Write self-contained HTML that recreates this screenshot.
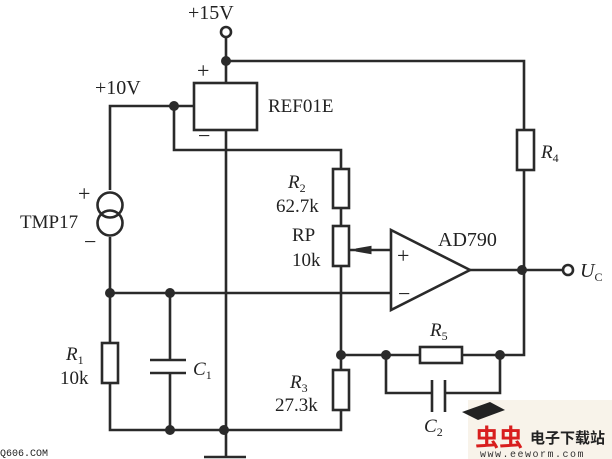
<!DOCTYPE html>
<html><head><style>
html,body{margin:0;padding:0;background:#fff;}
svg{display:block;}
text{font-family:"Liberation Serif",serif;fill:#222;}
</style></head><body>
<svg width="612" height="459" viewBox="0 0 612 459" xmlns="http://www.w3.org/2000/svg">
<g stroke="#2a2a2a" stroke-width="2.6" fill="none">
<circle cx="226" cy="32" r="5"/>
<path d="M226 37 V82 M226 61 H524 V130 M524 170 V355 H500"/>
<rect x="517" y="130" width="17" height="40"/>
<rect x="194" y="83" width="63" height="47"/>
<path d="M110 190 V106 H194 M174 106 V150 H341 V169 M341 208 V226 M341 266 V370 M341 410 V430 H110 V383 M110 343 V293 V237"/>
<path d="M226 130 V457 M204 457 H246"/>
<circle cx="110" cy="205" r="12.5"/>
<circle cx="110" cy="223" r="12.5"/>
<rect x="333" y="169" width="16" height="39"/>
<rect x="333" y="226" width="16" height="40"/>
<rect x="102" y="343" width="16" height="40"/>
<rect x="333" y="370" width="16" height="40"/>
<path d="M110 293 H391"/>
<path d="M170 293 V360 M150 360 H186 M150 373 H186 M170 373 V430"/>
<path d="M349 250 H391"/>
<path d="M391 230 L470 270 L391 310 Z"/>
<path d="M470 270 H563"/>
<circle cx="568" cy="270" r="5"/>
<path d="M341 355 H420 M462 355 H500 M386 355 V393 H432 M445 393 H500 V355"/>
<rect x="420" y="347" width="42" height="16"/>
<path d="M432 380 V412 M445 380 V412"/>
</g>
<path d="M356 250 L370 247.5 L370 252.5 Z" fill="#2a2a2a" stroke="#2a2a2a" stroke-width="3"/>
<g fill="#2a2a2a">
<circle cx="226" cy="61" r="5"/><circle cx="174" cy="106" r="5"/>
<circle cx="110" cy="293" r="5"/><circle cx="170" cy="293" r="5"/>
<circle cx="170" cy="430" r="5"/><circle cx="224" cy="430" r="5"/>
<circle cx="341" cy="355" r="5"/><circle cx="386" cy="355" r="5"/>
<circle cx="500" cy="355" r="5"/><circle cx="522" cy="270" r="5"/>
</g>
<text x="188" y="19" font-size="20">+15V</text>
<text x="95" y="94" font-size="20">+10V</text>
<text x="268" y="112" font-size="19">REF01E</text>
<text x="197" y="78" font-size="22">+</text>
<text x="198" y="143" font-size="22">−</text>
<text x="20" y="228" font-size="19">TMP17</text>
<text x="78" y="201" font-size="22">+</text>
<text x="84" y="249" font-size="22">−</text>
<text x="288" y="188" font-size="19" font-style="italic">R<tspan font-size="12" dy="4" font-style="normal">2</tspan></text>
<text x="276" y="212" font-size="19">62.7k</text>
<text x="292" y="241" font-size="19">RP</text>
<text x="292" y="266" font-size="19">10k</text>
<text x="438" y="246" font-size="20">AD790</text>
<text x="397" y="263" font-size="22">+</text>
<text x="398" y="301" font-size="22">−</text>
<text x="580" y="277" font-size="20" font-style="italic">U<tspan font-size="12" dy="4" font-style="normal">C</tspan></text>
<text x="541" y="158" font-size="19" font-style="italic">R<tspan font-size="12" dy="4" font-style="normal">4</tspan></text>
<text x="430" y="336" font-size="19" font-style="italic">R<tspan font-size="12" dy="4" font-style="normal">5</tspan></text>
<text x="424" y="432" font-size="19" font-style="italic">C<tspan font-size="12" dy="4" font-style="normal">2</tspan></text>
<text x="66" y="360" font-size="19" font-style="italic">R<tspan font-size="12" dy="4" font-style="normal">1</tspan></text>
<text x="60" y="384" font-size="19">10k</text>
<text x="193" y="375" font-size="19" font-style="italic">C<tspan font-size="12" dy="4" font-style="normal">1</tspan></text>
<text x="290" y="388" font-size="19" font-style="italic">R<tspan font-size="12" dy="4" font-style="normal">3</tspan></text>
<text x="275" y="411" font-size="19">27.3k</text>
<text x="0" y="456" font-size="10" style="font-family:'Liberation Mono',monospace">Q606.COM</text>
<rect x="468" y="400" width="144" height="59" fill="#f8f3ea"/>
<path d="M462 412 L490 402 L505 410 L478 420 Z" fill="#222"/>
<text x="475" y="446" font-size="24" font-weight="bold" style="font-family:'Noto Sans CJK SC',sans-serif;fill:#d81e1e">虫虫</text>
<text x="530" y="443" font-size="15" font-weight="bold" style="font-family:'Liberation Sans','Noto Sans CJK SC',sans-serif;fill:#222">电子下载站</text>
<text x="480" y="457" font-size="10" style="font-family:'Liberation Mono',monospace;fill:#333" letter-spacing="1.5">www.eeworm.com</text>
</svg>
</body></html>
